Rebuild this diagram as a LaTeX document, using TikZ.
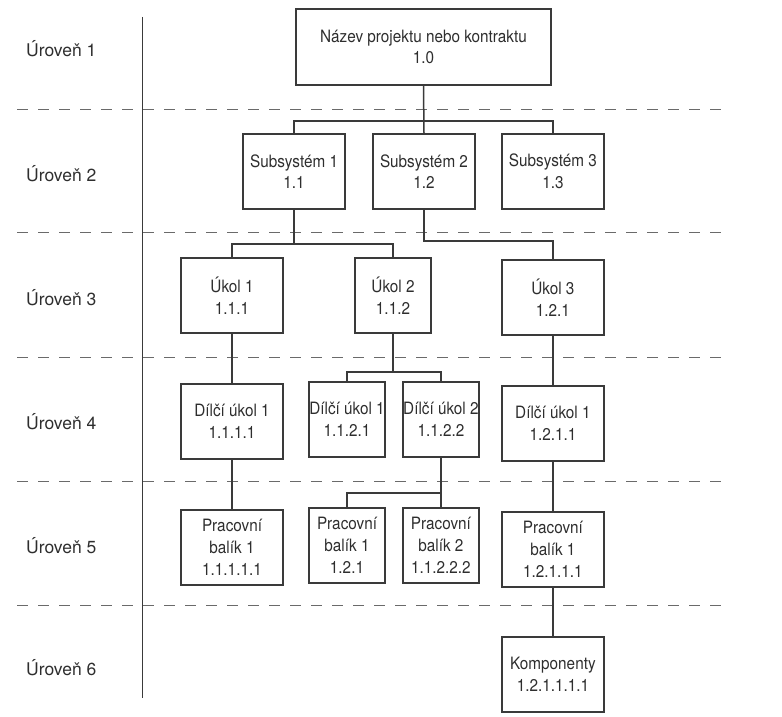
\documentclass[tikz,border=0pt]{standalone}
\usepackage{fontspec}
\setmainfont[FakeStretch=0.9]{TeX Gyre Heros}
\newfontfamily\lvlfont{TeX Gyre Heros}
\usetikzlibrary{positioning,calc}
\definecolor{cink}{HTML}{2E2E2E}
\definecolor{cline}{HTML}{3A3A3A}
\definecolor{cdash}{HTML}{6A6A6A}
\tikzset{
  box/.style={draw=cline, line width=1.9pt, minimum height=75pt, minimum width=102pt, inner sep=0pt, align=center, text=cink, font=\fontsize{17}{21.7}\selectfont},
  nbox/.style={box, minimum width=76pt},
  link/.style={draw=cline, line width=1.5pt},
  sep/.style={draw=cdash, line width=1pt, dash pattern=on 11pt off 10pt},
  lvl/.style={anchor=west, inner sep=0pt, text=cink, font=\lvlfont\fontsize{17.5}{20}\selectfont},
}

\begin{document}
\begin{tikzpicture}[x=1pt, y=1pt, node distance=49pt]
    \useasboundingbox (0,0) rectangle (782,-717);
    \node[box, minimum width=255pt, minimum height=76pt] (top) at (423.5,-47) {Název projektu nebo kontraktu\\1.0};
    \node[box] (sub2) at (424,-171.5) {Subsystém 2\\1.2};
    \node[box, left=26pt of sub2] (sub1) {Subsystém 1\\1.1};
    \node[box, right=25pt of sub2] (sub3) {Subsystém 3\\1.3};
    \node[box] (u1) at (232,-295.5) {Úkol 1\\1.1.1};
    \node[nbox] (u2) at (393,-295.5) {Úkol 2\\1.1.2};
    \node[box, below=of sub3] (u3) {Úkol 3\\1.2.1};
    \node[box, below=of u1] (d111) {Dílčí úkol 1\\1.1.1.1};
    \node[nbox] (d1121) at (347,-419.5) {Dílčí úkol 1\\1.1.2.1};
    \node[nbox, right=16pt of d1121] (d1122) {Dílčí úkol 2\\1.1.2.2};
    \node[box, below=of u3] (d1211) {Dílčí úkol 1\\1.2.1.1};
    \node[box, below=of d111] (p111) {Pracovní\\balík 1\\1.1.1.1.1};
    \node[nbox, below=of d1121] (p121) {Pracovní\\balík 1\\1.2.1};
    \node[nbox, below=of d1122] (p11222) {Pracovní\\balík 2\\1.1.2.2.2};
    \node[box, below=of d1211] (p12111) {Pracovní\\balík 1\\1.2.1.1.1};
    \node[box, below=48pt of p12111] (komp) {Komponenty\\1.2.1.1.1.1};
    \foreach \i/\y in {1/49,2/173.5,3/297.5,4/421.5,5/545.5,6/668}
      \node[lvl] (lvl\i) at (26,-\y) {Úroveň \i};
    \foreach \y in {109,232,357,481,605}
      \draw[sep] (17,-\y) -- (727,-\y);
    \draw[cline, line width=1pt] (142,-17) -- (142,-698);
    \draw[link] (top.south) -- (sub2.north);
    \draw[link] (sub1.north) -- ++(0,12) -| (sub3.north);
    \draw[link] (u1.north) -- ++(0,13) coordinate (b3) -| (u2.north);
    \draw[link] (sub1.south) -- (sub1.south |- b3);
    \draw[link] (sub2.south) -- ++(0,-31) -| (u3.north);
    \draw[link] (u1) -- (d111);
    \draw[link] (d111) -- (p111);
    \draw[link] (u3) -- (d1211);
    \draw[link] (d1211) -- (p12111);
    \draw[link] (p12111) -- (komp);
    \draw[link] (d1121.north) -- ++(0,9) coordinate (b4) -| (d1122.north);
    \draw[link] (u2.south) -- (u2.south |- b4);
    \draw[link] (d1122) -- (p11222);
    \draw[link] (p121.north) -- ++(0,14) -| (p11222.north);
  \end{tikzpicture}
\end{document}
